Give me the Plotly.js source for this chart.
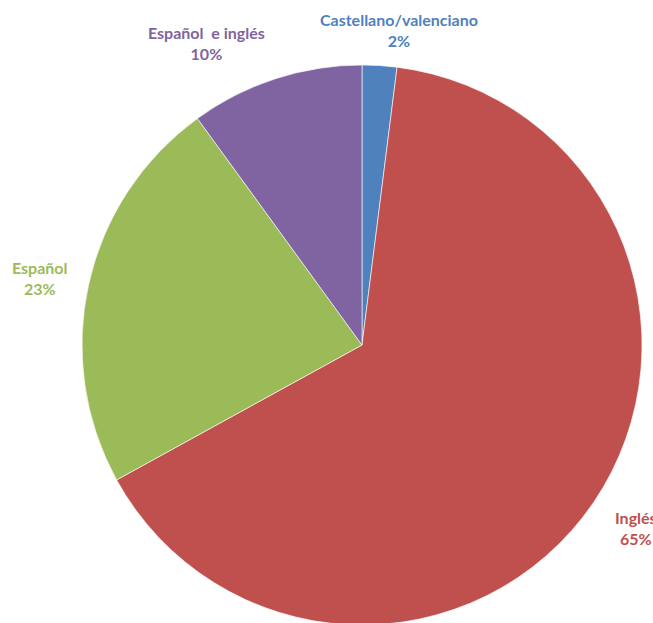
<!DOCTYPE html>
<html>
<head>
<meta charset="utf-8">
<script src="https://cdn.plot.ly/plotly-3.0.1.min.js"></script>
<style>
html,body{margin:0;padding:0;overflow:hidden;background:#fff;}
#chart{width:653px;height:700px;}
</style>
</head>
<body>
<div id="chart"></div>
<script>
var categories = ["Castellano/valenciano", "Inglés", "Español", "Español  e inglés"];
var values = [2, 65, 23, 10];
var colors = ["#4F81BD", "#C0504D", "#9BBB59", "#8064A2"];
var labelPos = [
  {x: 399, y: 30},
  {x: 636, y: 528},
  {x: 40, y: 278},
  {x: 207, y: 43}
];

var W = 653, H = 700;
var annotations = categories.map(function(c, i){
  return {
    xref: 'paper', yref: 'paper',
    x: labelPos[i].x / W, y: 1 - labelPos[i].y / H,
    xanchor: 'center', yanchor: 'middle',
    text: '<b>' + c + '<br>' + values[i] + '%</b>',
    showarrow: false,
    font: {family: 'Lato, "Open Sans", sans-serif', size: 16, color: colors[i]},
    align: 'center'
  };
});

var data = [{
  type: 'pie',
  labels: categories,
  values: values,
  sort: false,
  direction: 'clockwise',
  rotation: 0,
  textinfo: 'none',
  hoverinfo: 'none',
  marker: {colors: colors, line: {color: 'rgba(255,255,255,0.6)', width: 1}},
  domain: {x: [82/W, 642/W], y: [(H-625)/H, (H-65)/H]},
  showlegend: false
}];

var layout = {
  width: W, height: H,
  margin: {l: 0, r: 0, t: 0, b: 0},
  paper_bgcolor: '#fff',
  showlegend: false,
  annotations: annotations
};

Plotly.newPlot('chart', data, layout, {displayModeBar: false, staticPlot: true});
</script>
</body>
</html>
